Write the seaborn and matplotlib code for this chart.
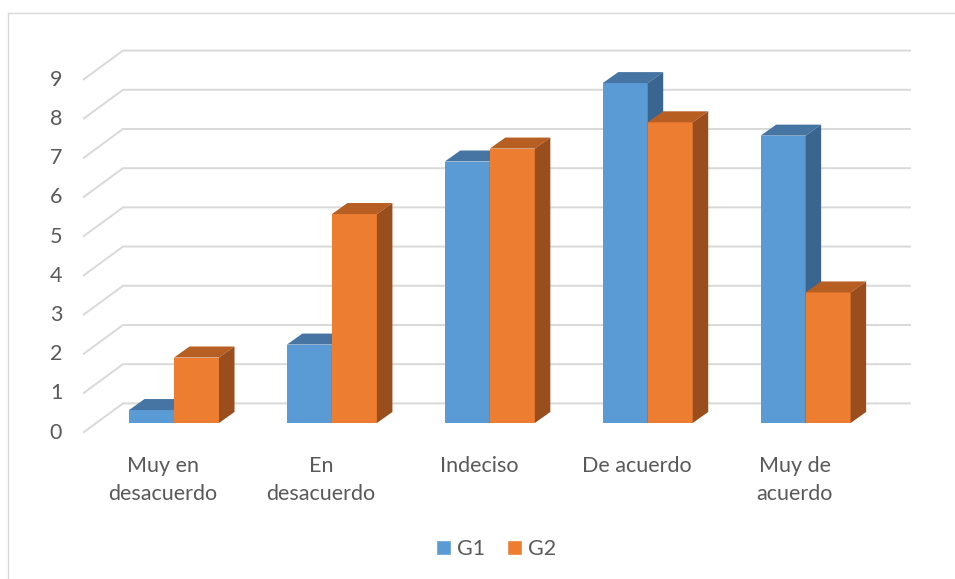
import seaborn as sns
import matplotlib.pyplot as plt
import pandas as pd
from matplotlib.patches import Polygon, Patch
from matplotlib.lines import Line2D

# Data
categories = ["Muy en\ndesacuerdo", "En\ndesacuerdo", "Indeciso", "De acuerdo", "Muy de\nacuerdo"]
series = ["G1", "G2"]
g1 = [0.33, 2.0, 6.67, 8.67, 7.33]
g2 = [1.67, 5.33, 7.0, 7.67, 3.33]
y_ticks = list(range(10))

df = pd.DataFrame({
    "categoria": categories * 2,
    "grupo": ["G1"] * len(g1) + ["G2"] * len(g2),
    "valor": g1 + g2,
})

front = {"G1": "#5B9BD5", "G2": "#ED7D31"}
top = {"G1": "#4675A3", "G2": "#B75E22"}
side = {"G1": "#3A6590", "G2": "#9A4D1D"}
grid_c = "#D9D9D9"
text_c = "#595959"
fs = 15.5

sns.set_theme(style="white")
plt.rcParams["font.family"] = ["Lato", "DejaVu Sans"]

fig = plt.figure(figsize=(9.55, 5.79), dpi=100)
ax = fig.add_axes([0, 0, 1, 1])

sns.barplot(data=df, x="categoria", y="valor", hue="grupo", palette=front,
            width=0.57, saturation=1, legend=False, ax=ax)

# fake 3d: depth offset of the bars
DX, DY = 15.5 / 157.9, 11 / 39.2

for k, (s, cont) in enumerate(zip(series, ax.containers)):
    z = 3 + k
    for p in cont.patches:
        p.set_zorder(z)
        p.set_edgecolor("none")
        x0, w, h = p.get_x(), p.get_width(), p.get_height()
        ax.add_patch(Polygon([(x0, h), (x0 + w, h), (x0 + w + DX, h + DY), (x0 + DX, h + DY)],
                             closed=True, facecolor=top[s], edgecolor="none", zorder=z + 0.1))
        ax.add_patch(Polygon([(x0 + w, 0), (x0 + w + DX, DY), (x0 + w + DX, h + DY), (x0 + w, h)],
                             closed=True, facecolor=side[s], edgecolor="none", zorder=z + 0.1))

# back wall grid + diagonal side wall lines
for v in y_ticks:
    ax.plot([-0.576, -0.323, 4.667], [v - 0.247, v + 0.5, v + 0.5],
            color=grid_c, lw=1.4, zorder=1, solid_capstyle="butt")
    ax.text(-0.747, v - 0.247, str(v), ha="center", va="center", fontsize=fs, color=text_c)

for i, c in enumerate(categories):
    ax.text(i - 0.07, -0.85, c, ha="center", va="top", fontsize=fs, color=text_c,
            linespacing=1.45, multialignment="center")

ax.set_xlim(-1.102, 4.946)
ax.set_ylim(-3.98, 10.79)
ax.axis("off")

handles = [Patch(facecolor=front[s], label=s) for s in series]
leg = fig.legend(handles=handles, loc="center", bbox_to_anchor=(496 / 955, 1 - 549 / 579),
                 ncol=2, frameon=False, fontsize=fs, handlelength=0.7, handleheight=0.7,
                 handletextpad=0.3, columnspacing=1.0)
for t in leg.get_texts():
    t.set_color(text_c)

# chart area border (only top and left visible)
fig.add_artist(Line2D([8 / 955, 1], [1 - 13 / 579, 1 - 13 / 579], transform=fig.transFigure,
                      color=grid_c, lw=1))
fig.add_artist(Line2D([8 / 955, 8 / 955], [0, 1 - 13 / 579], transform=fig.transFigure,
                      color=grid_c, lw=1))

fig.savefig("out.png", dpi=100)
